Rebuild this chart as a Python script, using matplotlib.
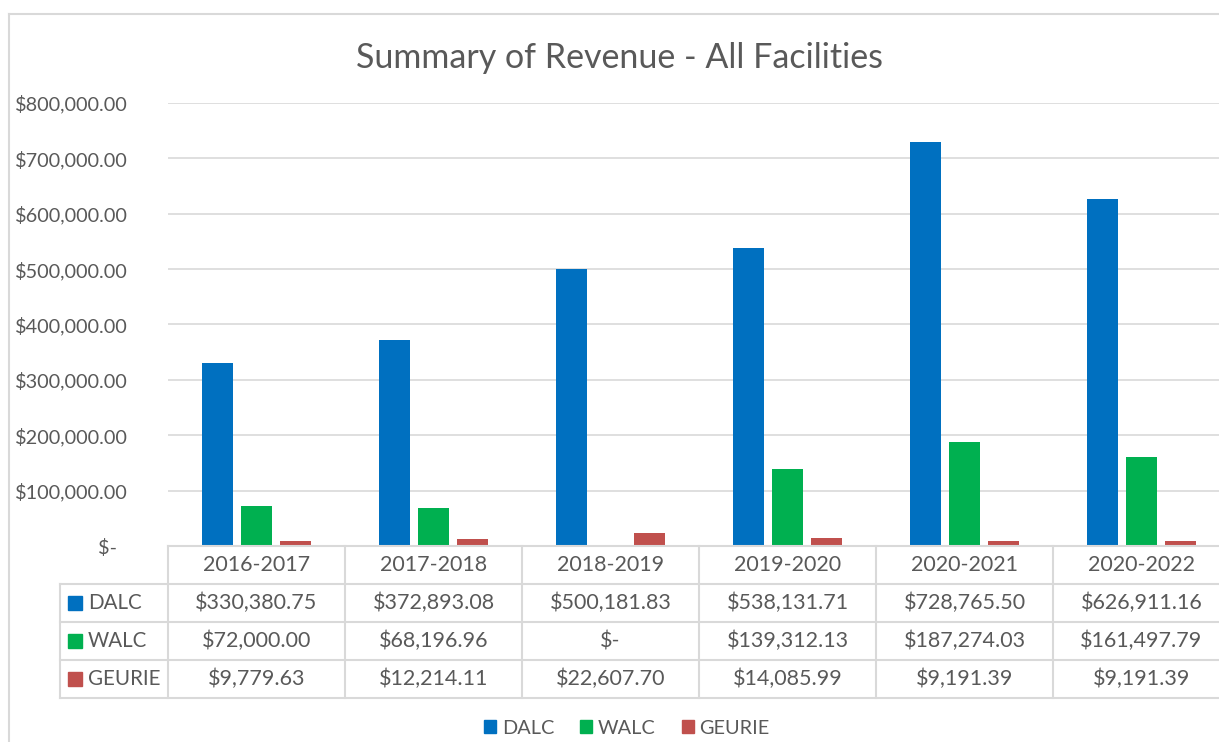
import numpy as np
import matplotlib
matplotlib.use("Agg")
import matplotlib.pyplot as plt
from matplotlib.patches import Rectangle
from matplotlib.lines import Line2D

plt.rcParams['font.family'] = ['Lato', 'DejaVu Sans']

years = ['2016-2017', '2017-2018', '2018-2019', '2019-2020', '2020-2021', '2020-2022']
series = ['DALC', 'WALC', 'GEURIE']
dalc = [330380.75, 372893.08, 500181.83, 538131.71, 728765.50, 626911.16]
walc = [72000.00, 68196.96, 0.0, 139312.13, 187274.03, 161497.79]
geurie = [9779.63, 12214.11, 22607.70, 14085.99, 9191.39, 9191.39]
colors = ['#0070C0', '#00B050', '#C0504D']
yticks = [0, 100000, 200000, 300000, 400000, 500000, 600000, 700000, 800000]

TXT = '#595959'
GRID = '#d9d9d9'
W, H = 1219, 742
FS = 15.5


def px_box(x0, y0, x1, y1):
    return [x0 / W, 1 - y1 / H, (x1 - x0) / W, (y1 - y0) / H]


def money(v):
    return '$-' if v == 0 else '${:,.2f}'.format(v)


fig = plt.figure(figsize=(W / 100, H / 100), dpi=100)

# main bar area (runs off the right edge like the cropped original)
ax = fig.add_axes(px_box(168, 103, 1230, 546))
x = np.arange(len(years))
step, bw = 0.22, 0.18
for i, (name, vals) in enumerate(zip(series, [dalc, walc, geurie])):
    ax.bar(x + (i - 1) * step, vals, width=bw, color=colors[i], zorder=3)
ax.set_xlim(-0.5, len(years) - 0.5)
ax.set_ylim(0, 800000)
ax.set_yticks(yticks)
ax.set_yticklabels([money(v) + ('  ' if v == 0 else '') for v in yticks])
ax.tick_params(axis='y', length=0, pad=29, labelsize=14.3, labelcolor=TXT)
ax.set_xticks([])
ax.grid(axis='y', color=GRID, linewidth=1.2, zorder=0)
for s in ax.spines.values():
    s.set_visible(False)

# data table under the bars
tb = fig.add_axes(px_box(60, 546, 1230, 698))
xl = -0.5 - 108 / 177
tb.set_xlim(xl, len(years) - 0.5)
tb.set_ylim(4, 0)
tb.axis('off')
lw = 1.5
tb.plot([-0.5, len(years) - 0.5], [0, 0], color=GRID, lw=lw, clip_on=False)
for r in range(1, 5):
    tb.plot([xl, len(years) - 0.5], [r, r], color=GRID, lw=lw, clip_on=False)
for c in range(len(years) + 1):
    tb.plot([c - 0.5, c - 0.5], [0, 4], color=GRID, lw=lw, clip_on=False)
tb.plot([xl, xl], [1, 4], color=GRID, lw=lw, clip_on=False)

for j, yr in enumerate(years):
    tb.text(j, 0.5, yr, ha='center', va='center', fontsize=FS, color=TXT)
for i, (name, vals) in enumerate(zip(series, [dalc, walc, geurie])):
    r = i + 1.5
    tb.add_patch(Rectangle((xl + 8 / 177, r - 0.19), 14 / 177, 0.38,
                           color=colors[i], clip_on=False))
    tb.text(xl + 28 / 177, r, name, ha='left', va='center', fontsize=14.8, color=TXT)
    for j, v in enumerate(vals):
        tb.text(j, r, money(v), ha='center', va='center', fontsize=FS, color=TXT)

fig.text(620 / W, 1 - 58 / H, 'Summary of Revenue - All Facilities',
         ha='center', va='center', fontsize=24.5, color=TXT)

handles = [Rectangle((0, 0), 1, 1, color=c) for c in colors]
fig.legend(handles, series, loc='center', bbox_to_anchor=(627 / W, 1 - 728 / H),
           ncol=3, frameon=False, fontsize=14.3, handlelength=0.6, handleheight=0.6,
           handletextpad=0.3, columnspacing=1.3, labelcolor=TXT)

# outer chart border (cropped at right and bottom)
fig.add_artist(Line2D([9 / W, 9 / W], [0, 1 - 14 / H], color=GRID, lw=1.5))
fig.add_artist(Line2D([9 / W, 1], [1 - 14 / H, 1 - 14 / H], color=GRID, lw=1.5))

fig.savefig('out.png', dpi=100)
